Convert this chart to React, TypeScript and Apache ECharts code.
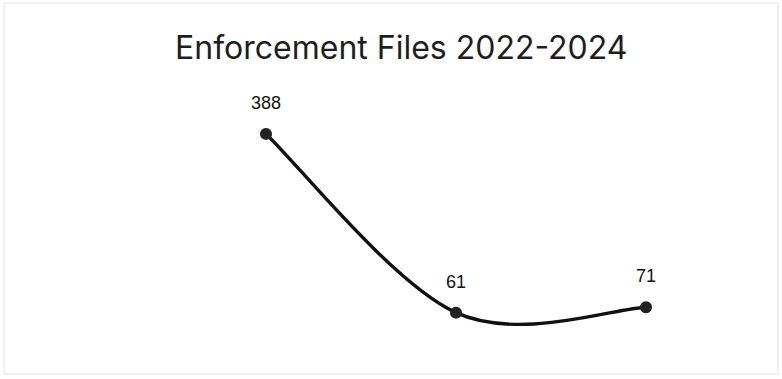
import React, { useEffect, useRef } from "react";
import * as echarts from "echarts";

const titleText = "Enforcement Files 2022-2024";
const categories = ["2022", "2023", "2024"];
const values = [388, 61, 71];

export default function App() {
  const ref = useRef<HTMLDivElement>(null);
  useEffect(() => {
    if (!ref.current) return;
    const chart = echarts.init(ref.current, null, { renderer: "svg" });
    chart.setOption({
      animation: false,
      backgroundColor: "#ffffff",
      title: {
        text: titleText,
        left: 170,
        top: 26,
        textStyle: {
          fontFamily: "Inter",
          fontSize: 32,
          fontWeight: "normal",
          color: "#1e1e1e",
        },
      },
      graphic: [
        {
          type: "rect",
          shape: { x: 4, y: 3, width: 774, height: 371 },
          style: { fill: "none", stroke: "#e2e2e2", lineWidth: 1 },
          silent: true,
        },
      ],
      grid: { left: 171, right: 41, top: 100, bottom: 33 },
      xAxis: {
        type: "category",
        data: categories,
        boundaryGap: true,
        show: false,
      },
      yAxis: {
        type: "value",
        min: 0,
        max: 450,
        show: false,
        splitLine: { show: false },
      },
      series: [
        {
          type: "custom",
          data: values.map((v, i) => [i, v]),
          z: 2,
          silent: true,
          renderItem: (params: any, api: any) => {
            if (params.dataIndex !== 0) return null;
            const pts = values.map((v, i) => api.coord([i, v]));
            const n = pts.length;
            const children: any[] = [];
            for (let i = 0; i < n - 1; i++) {
              const p0 = pts[Math.max(i - 1, 0)];
              const p1 = pts[i];
              const p2 = pts[i + 1];
              const p3 = pts[Math.min(i + 2, n - 1)];
              const c1 = [p1[0] + (p2[0] - p0[0]) / 6, p1[1] + (p2[1] - p0[1]) / 6];
              const c2 = [p2[0] - (p3[0] - p1[0]) / 6, p2[1] - (p3[1] - p1[1]) / 6];
              children.push({
                type: "bezierCurve",
                shape: {
                  x1: p1[0], y1: p1[1],
                  cpx1: c1[0], cpy1: c1[1],
                  cpx2: c2[0], cpy2: c2[1],
                  x2: p2[0], y2: p2[1],
                },
                style: { stroke: "#111111", lineWidth: 3.4, fill: "none", lineCap: "round" },
              });
            }
            return { type: "group", children };
          },
        },
        {
          type: "line",
          data: values,
          z: 3,
          symbol: "circle",
          symbolSize: 12,
          lineStyle: { opacity: 0, width: 0 },
          itemStyle: { color: "#222222" },
          label: {
            show: true,
            position: "top",
            distance: 16,
            fontFamily: "Liberation Sans",
            fontSize: 18,
            color: "#111111",
          },
        },
      ],
    });
    return () => chart.dispose();
  }, []);
  return (
    <div
      ref={ref}
      style={{ position: "fixed", left: 0, top: 0, width: 782, height: 379 }}
    />
  );
}
